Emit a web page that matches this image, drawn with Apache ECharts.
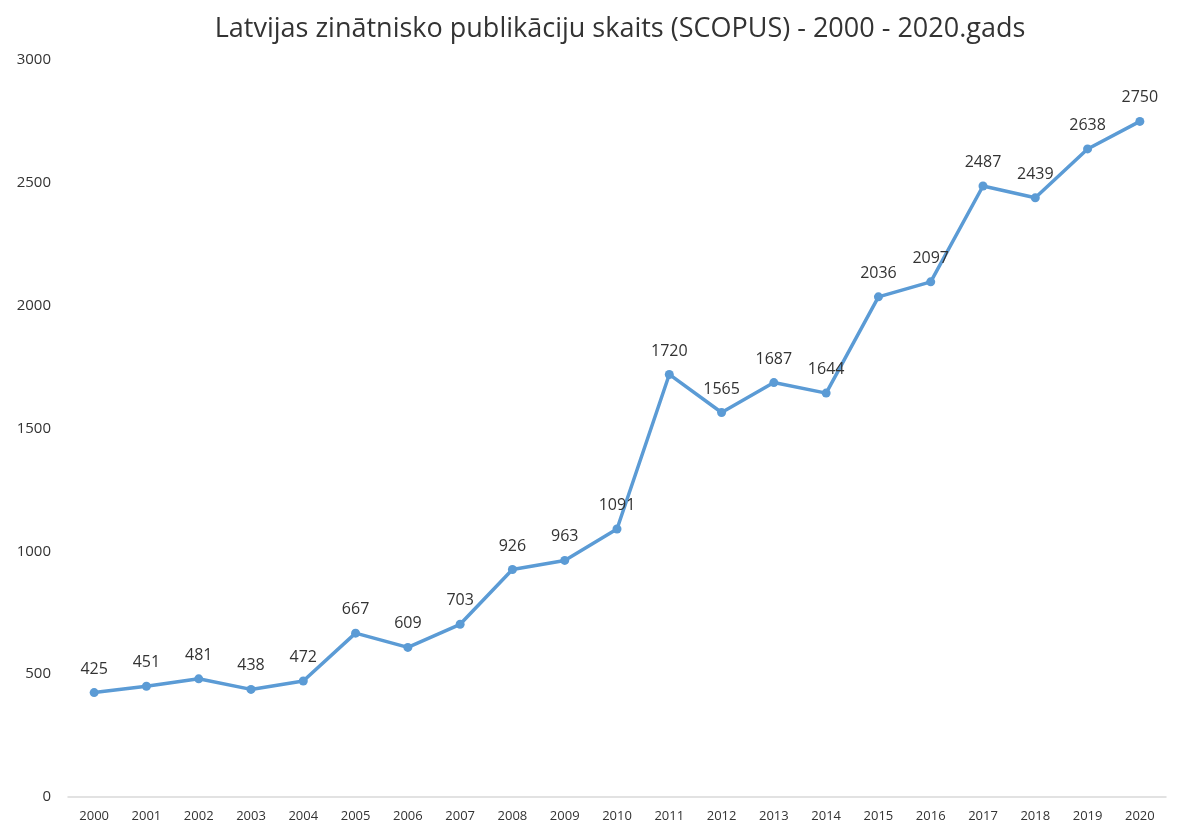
<!DOCTYPE html>
<html><head><meta charset="utf-8">
<script src="https://cdn.jsdelivr.net/npm/echarts@6/dist/echarts.min.js"></script>
<style>html,body{margin:0;padding:0;background:#fff}#c{width:1179px;height:829px}</style>
</head><body><div id="c"></div>
<script>
const years = ['2000','2001','2002','2003','2004','2005','2006','2007','2008','2009','2010','2011','2012','2013','2014','2015','2016','2017','2018','2019','2020'];
const publications = [425,451,481,438,472,667,609,703,926,963,1091,1720,1565,1687,1644,2036,2097,2487,2439,2638,2750];
const yTicks = [0,500,1000,1500,2000,2500,3000];
const chart = echarts.init(document.getElementById('c'));
chart.setOption({
  animation:false,
  title:{text:'Latvijas zinātnisko publikāciju skaits (SCOPUS) - 2000 - 2020.gads',left:615,top:11,textAlign:'center',
    textStyle:{fontFamily:'Open Sans',fontSize:27,fontWeight:'normal',color:'#333333'}},
  grid:{left:68,right:13,top:60,bottom:32},
  xAxis:{type:'category',data:years,boundaryGap:true,
    axisLine:{lineStyle:{color:'#d9d9d9',width:1.5}},axisTick:{show:false},
    axisLabel:{fontFamily:'Open Sans',fontSize:13,color:'#333333',margin:13,interval:0}},
  yAxis:{type:'value',min:yTicks[0],max:yTicks[yTicks.length-1],interval:500,
    splitLine:{show:false},axisLine:{show:false},axisTick:{show:false},
    axisLabel:{fontFamily:'Open Sans',fontSize:15,color:'#333333',margin:17,formatter:v=>String(v)}},
  series:[{type:'line',data:publications,symbol:'circle',symbolSize:9,
    lineStyle:{color:'#5B9BD5',width:3.5},itemStyle:{color:'#5B9BD5'},
    label:{show:true,position:'top',distance:11,fontFamily:'Open Sans',fontSize:16,color:'#333333'}}]
});
</script></body></html>
